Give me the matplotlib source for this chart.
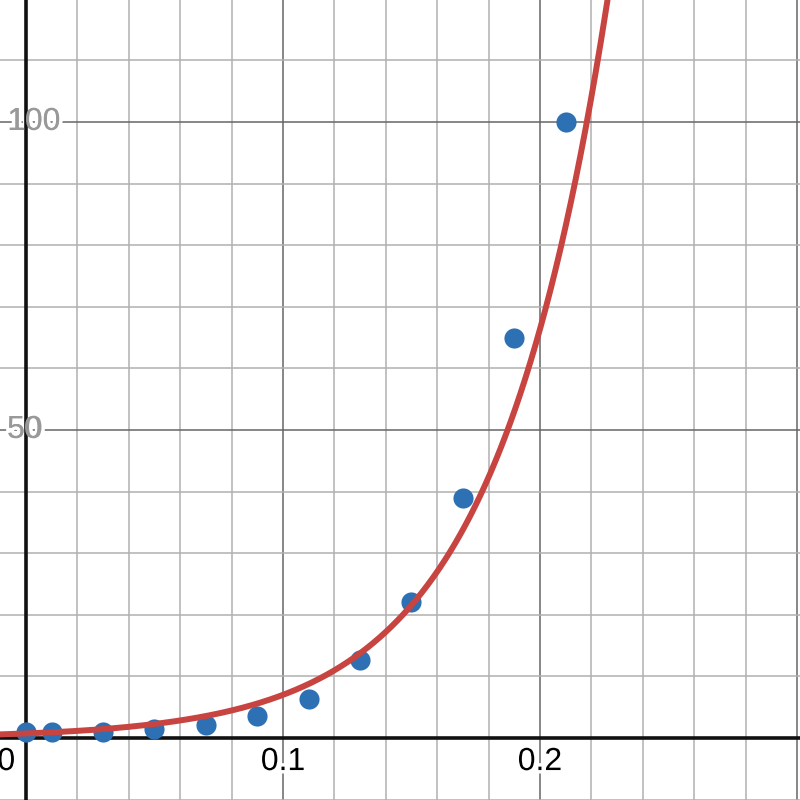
import numpy as np
import matplotlib
matplotlib.use('Agg')
import matplotlib.pyplot as plt
import matplotlib.patheffects as pe

# data points
x_data = [0.0, 0.01, 0.03, 0.05, 0.07, 0.09, 0.11, 0.13, 0.15, 0.17, 0.19, 0.21]
y_data = [1.0, 1.0, 1.0, 1.4, 2.1, 3.6, 6.3, 12.6, 22.0, 39.0, 65.0, 100.0]

# exponential fit y = a * exp(b * x)
fit_a = 0.74
fit_b = 22.48

x_labels = ["0", "0.1", "0.2"]
y_labels = ["50", "100"]

RED = '#c74440'
BLUE = '#2d70b3'

xmin, xmax = -0.0101, 0.3012
ymin, ymax = -10.06, 119.8

fig = plt.figure(figsize=(8, 8), dpi=100)
ax = fig.add_axes([0, 0, 1, 1])
ax.set_xlim(xmin, xmax)
ax.set_ylim(ymin, ymax)
ax.axis('off')

# grid
for i in range(-1, 17):
    gx = i * 0.02
    major = i % 5 == 0
    ax.axvline(gx, color='#666666' if major else '#b0b0b0', lw=1.1, zorder=1)
for j in range(-1, 13):
    gy = j * 10
    major = j % 5 == 0
    ax.axhline(gy, color='#666666' if major else '#b0b0b0', lw=1.1, zorder=1)

# axes
ax.axvline(0, color='#111111', lw=2.6, zorder=3)
ax.axhline(0, color='#111111', lw=2.6, zorder=3)

font = dict(family=['Liberation Sans', 'DejaVu Sans'], fontsize=23)
halo = [pe.withStroke(linewidth=5, foreground='white')]

# x tick labels
for k, lab in enumerate(x_labels):
    xv = k * 0.1
    if k == 0:
        ax.text(-0.0042, -3.9, lab, ha='right', va='center', color='black',
                zorder=4, path_effects=halo, **font)
    else:
        ax.text(xv, -3.9, lab, ha='center', va='center', color='black',
                zorder=4, path_effects=halo, **font)

# y tick labels
for k, lab in enumerate(y_labels):
    yv = (k + 1) * 50
    ax.text(-0.0073, yv, lab, ha='left', va='center', color='#999999',
            zorder=2, path_effects=halo, **font)
    ax.text(-0.0073, yv, lab, ha='left', va='center', color='#999999',
            zorder=4, **font)

# points
ax.plot(x_data, y_data, 'o', color=BLUE, ms=14.5, mec='none', zorder=5)

# fitted curve
xc = np.linspace(xmin, xmax, 800)
yc = fit_a * np.exp(fit_b * xc)
ax.plot(xc, yc, color=RED, lw=4.3, zorder=6, solid_capstyle='round')

fig.savefig('out.png', dpi=100)
